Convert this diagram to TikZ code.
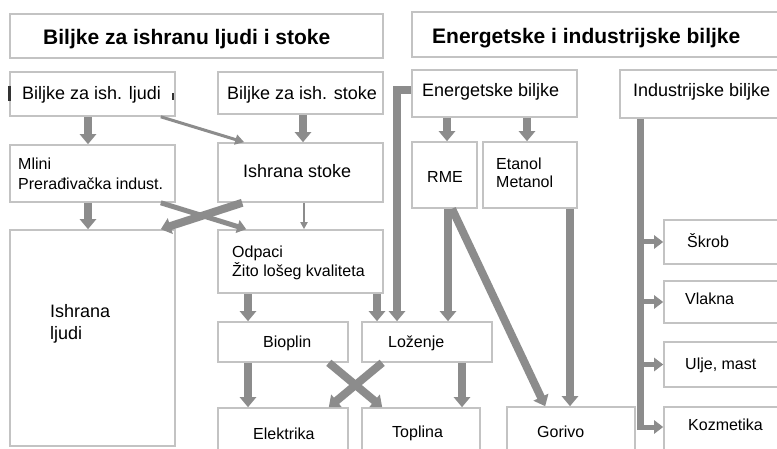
\documentclass[tikz,border=0pt]{standalone}
\usepackage{fontspec}
\setmainfont{Liberation Sans}
\usetikzlibrary{arrows.meta}
\definecolor{arrgray}{RGB}{140,140,140}
\definecolor{boxgray}{RGB}{195,195,195}
\begin{document}
\begin{tikzpicture}[x=1pt,y=-1pt,
  box/.style n args={2}{draw=boxgray, line width=1.6pt, fill=white, inner sep=0pt, minimum width=#1, minimum height=#2},
  lbl/.style={anchor=base west, inner sep=0pt, font=\fontsize{16}{19}\selectfont},
  lblL/.style={anchor=base west, inner sep=0pt, font=\fontsize{18}{21}\selectfont},
  ttl/.style={anchor=base west, inner sep=0pt, font=\fontsize{21}{25}\selectfont\bfseries},
  arr/.style={draw=arrgray, line width=8pt, -{Triangle[length=10pt,width=16pt]}},
  arrm/.style={draw=arrgray, line width=5pt, -{Triangle[length=9pt,width=13pt]}},
  arrt/.style={draw=arrgray, line width=3pt, -{Triangle[length=9pt,width=10pt]}},
  arrxt/.style={draw=arrgray, line width=2pt, -{Triangle[length=7pt,width=7pt]}},
  trunkline/.style={draw=arrgray, line width=7pt}
]
\useasboundingbox (0,0) rectangle (777,449);
\fill[white] (0,0) rectangle (777,449);
\clip (0,0) rectangle (777,449);

% titles
\node[box={373pt}{44pt}] (T1) at (196.5,36) {};
\node[box={378pt}{45pt}] (T2) at (601,34.5) {};
\node[ttl] (T1t) at (43,45) {Biljke za ishranu ljudi i stoke};
\node[ttl] (T2t) at (432,44) {Energetske i industrijske biljke};

% boxes
\node[box={165pt}{44pt}] (L1) at (92.5,94) {};
\node[box={165pt}{42pt}] (L2) at (300.5,93) {};
\node[box={165pt}{47pt}] (EB) at (494.5,93.5) {};
\node[box={170pt}{48pt}] (IB) at (705,94) {};
\node[box={165pt}{57pt}] (M) at (92.5,173.5) {};
\node[box={165pt}{59pt}] (IS) at (300.5,172.5) {};
\node[box={65pt}{66pt}] (RME) at (444.5,175) {};
\node[box={94pt}{66pt}] (ET) at (530,175) {};
\node[box={165pt}{216pt}] (IL) at (92.5,338) {};
\node[box={165pt}{63pt}] (OD) at (300.5,261.5) {};
\node[box={130pt}{40pt}] (BI) at (283,342) {};
\node[box={130pt}{40pt}] (LO) at (427,342) {};
\node[box={130pt}{54pt}] (EL) at (283,435) {};
\node[box={118pt}{54pt}] (TO) at (421,435) {};
\node[box={128pt}{55pt}] (GO) at (571,434.5) {};
\node[box={126pt}{44pt}] (SK) at (727,242) {};
\node[box={126pt}{42pt}] (VL) at (727,302) {};
\node[box={126pt}{45pt}] (UM) at (727,364.5) {};
\node[box={126pt}{55pt}] (KO) at (727,434.5) {};

% small marks beside the first label
\draw[black!80, line width=2.2pt] (9.5,86) -- (9.5,101);
\draw[black!80, line width=2.2pt] (173,93) -- (173,100);

% labels
\node[lblL] (L1t) at (22,100) {Biljke za ish. ljudi};
\node[lblL] (L2t) at (227,100) {Biljke za ish. stoke};
\node[lblL] (EBt) at (422,97) {Energetske biljke};
\node[lblL] (IBt) at (633,97) {Industrijske biljke};
\node[lbl] (Mt1) at (18,170) {Mlini};
\node[lbl] (Mt2) at (18,190) {Prerađivačka indust.};
\node[lblL] (ISt) at (243,178) {Ishrana stoke};
\node[lbl] (ODt1) at (232,258) {Odpaci};
\node[lbl] (ODt2) at (232,277) {Žito lošeg kvaliteta};
\node[lblL] (ILt1) at (50,318) {Ishrana};
\node[lblL] (ILt2) at (50,340) {ljudi};
\node[lbl] (RMEt) at (427,183) {RME};
\node[lbl] (ETt1) at (496,170) {Etanol};
\node[lbl] (ETt2) at (496,188) {Metanol};
\node[lbl] (BIt) at (263,348) {Bioplin};
\node[lbl] (LOt) at (388,348) {Loženje};
\node[lbl] (ELt) at (253,439) {Elektrika};
\node[lbl] (TOt) at (392,437) {Toplina};
\node[lbl] (GOt) at (537,437) {Gorivo};
\node[lbl] (SKt) at (687,248) {Škrob};
\node[lbl] (VLt) at (685,305) {Vlakna};
\node[lbl] (UMt) at (685,369) {Ulje, mast};
\node[lbl] (KOt) at (688,430) {Kozmetika};

% vertical arrows
\draw[arr] ([xshift=-4.5]L1.south) -- ([xshift=-4.5]M.north);
\draw[arr] ([xshift=-4.5]M.south) -- ([xshift=-4.5]IL.north);
\draw[arr] ([xshift=2.5]L2.south) -- ([xshift=2.5]IS.north);
\draw[arrxt] ([xshift=3.5]IS.south) -- ([xshift=3.5]OD.north);
\draw[arr] ([xshift=-52.5]OD.south) -- ([xshift=-35]BI.north);
\draw[arr] ([xshift=76.5]OD.south) -- ([xshift=-50]LO.north);
\draw[arr] ([xshift=-47.5]EB.south) -- ([xshift=2.5]RME.north);
\draw[arr] ([xshift=32.5]EB.south) -- ([xshift=-3]ET.north);
\draw[arr] ([xshift=3.5]RME.south) -- ([xshift=21]LO.north);
\draw[arr] ([xshift=40]ET.south) -- ([xshift=-1]GO.north);
\draw[arr] ([xshift=-35]BI.south) -- ([xshift=-35]EL.north);
\draw[arr] ([xshift=35]LO.south) -- ([xshift=41]TO.north);

% diagonal arrows
\draw[arrt] ([xshift=-15]L1.south east) -- ([xshift=27]IS.north west);
\draw[arrm] ([xshift=-15]M.south east) -- ([xshift=29]OD.north west);
\draw[arr] ([xshift=25]IS.south west) -- ([xshift=-15]IL.north east);
\draw[arr] ([xshift=-20]BI.south east) -- ([xshift=21]TO.north west);
\draw[arr] ([xshift=21]LO.south west) -- ([xshift=-20]EL.north east);
\draw[arr] ([xshift=7.5]RME.south) -- ([xshift=39]GO.north west);

% energetske biljke to lozenje
\draw[arr, line join=miter] ([yshift=3]EB.west) -| ([xshift=-30]LO.north);

% industrial trunk
\coordinate (trunk) at (640,427);
\draw[trunkline] ([xshift=-65]IB.south) -- ([yshift=-3]trunk);
\draw[arrm] (SK.west -| trunk) -- (SK.west);
\draw[arrm] (VL.west -| trunk) -- (VL.west);
\draw[arrm] (UM.west -| trunk) -- (UM.west);
\draw[arrm] (trunk) -- (KO.west |- trunk);
\end{tikzpicture}
\end{document}
